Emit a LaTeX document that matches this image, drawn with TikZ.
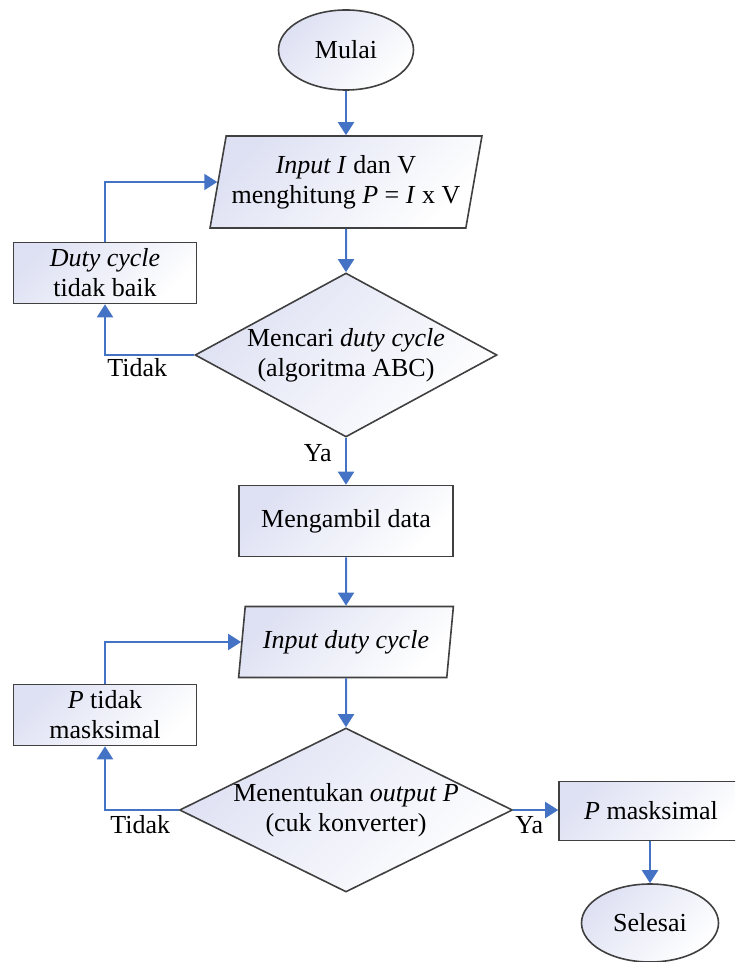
\documentclass[tikz,border=0pt]{standalone}
\usepackage{fontspec}
\setmainfont{Liberation Serif}
\usetikzlibrary{arrows.meta,shapes.geometric,positioning}
\definecolor{linec}{RGB}{68,114,196}
\definecolor{drawc}{RGB}{64,64,64}
\definecolor{fillc}{RGB}{222,225,243}
\tikzset{
myshape/.style={
  draw=drawc,
  line width=0.8pt,
  top color=fillc,
  bottom color=white,
  shading angle=45,
  inner sep=0pt,
  align=center,
  font=\fontsize{13}{15}\selectfont,
  }
}
\tikzset{
mybox/.style={myshape, rectangle},
myterm/.style={myshape, ellipse},
myio/.style={
  myshape,
  trapezium,
  trapezium stretches=true,
  },
mydec/.style={
  myshape,
  diamond,
  aspect=2,
  inner sep=-4pt,
  },
mylabel/.style={inner sep=0pt, font=\fontsize{13}{15}\selectfont}
}
\tikzset{
myline/.style={
  line width=1pt,
  draw=linec,
  -{Triangle[length=6.5pt,width=8pt]}
  }
}

\begin{document}
\begin{tikzpicture}[x=0.5pt,y=-0.5pt]
    \clip (0,0) rectangle (735,962);

    % main flow
    \node[myterm, minimum width=67.5pt, minimum height=40pt] (mulai) at (346,50) {Mulai};
    \node[myio, trapezium left angle=74, trapezium right angle=106, minimum width=136pt, minimum height=46pt] (inp1) at (346,182) {\textit{Input I} dan V\\menghitung \textit{P} = \textit{I} x V};
    \node[mydec, minimum width=151pt, minimum height=82pt] (cari) at (346,355) {Mencari \textit{duty cycle}\\(algoritma ABC)};
    \node[mybox, minimum width=107pt, minimum height=35.5pt] (ambil) at (346,521) {Mengambil data};
    \node[myio, trapezium left angle=77, trapezium right angle=103, minimum width=107.5pt, minimum height=35.5pt] (inp2) at (346,642) {\textit{Input duty cycle}};
    \node[mydec, minimum width=166.5pt, minimum height=82pt] (tentu) at (346,810) {Menentukan \textit{output P}\\(cuk konverter)};
    \node[mybox, minimum width=92pt, minimum height=29.5pt] (pmax) at (651,811) {\textit{P} masksimal};
    \node[myterm, minimum width=68.5pt, minimum height=39pt] (selesai) at (650,923) {Selesai};

    % loop part
    \node[mybox, minimum width=91.5pt, minimum height=30.5pt] (dcbad) at (105,273) {\textit{Duty cycle}\\tidak baik};
    \node[mybox, minimum width=91.5pt, minimum height=30.5pt] (pbad) at (105,715) {\textit{P} tidak\\masksimal};

    % labels
    \node[mylabel, anchor=west] (tidak1) at (107,368) {Tidak};
    \node[mylabel, anchor=east] (ya1) at (332,453) {Ya};
    \node[mylabel, anchor=west] (tidak2) at (110,825) {Tidak};
    \node[mylabel, anchor=west] (ya2) at (515,825) {Ya};

    % main edges
    \draw[myline] (mulai) -- (inp1);
    \draw[myline] (inp1) -- (cari);
    \draw[myline] (cari) -- (ambil);
    \draw[myline] (ambil) -- (inp2);
    \draw[myline] (inp2) -- (tentu);
    \draw[myline] (tentu.east) -- (tentu.east -| pmax.west);
    \draw[myline] (pmax.south -| selesai) -- (selesai);

    % loop edges
    \draw[myline] (cari.west) -| (dcbad.south);
    \draw[myline] (dcbad.north) |- (inp1.west);
    \draw[myline] (tentu.west) -| (pbad.south);
    \draw[myline] (pbad.north) |- (inp2.west);
\end{tikzpicture}
\end{document}
